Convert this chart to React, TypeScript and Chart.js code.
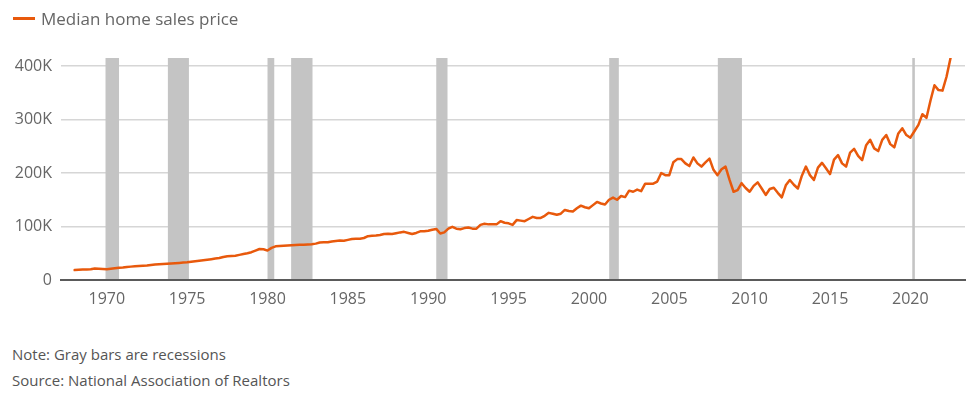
import React, { useEffect, useRef } from 'react';
import { Chart, registerables } from 'chart.js';

Chart.register(...registerables);

// Quarterly median home sales price (thousands of dollars), Jan/Apr/Jul/Oct, starting 1968
const firstYear = 1968;
const medianPriceThousands = [
  18.5, 19, 19.5, 19.5, // 1968
  20, 21.5, 21, 20.5, // 1969
  20, 21, 22, 23, // 1970
  23.5, 24.5, 25, 25.5, // 1971
  26, 26.5, 27, 28, // 1972
  29, 29.5, 30, 30.5, // 1973
  31, 31.5, 32, 32.5, // 1974
  33, 34, 35, 36, // 1975
  37, 38, 39, 40, // 1976
  41, 43, 44.5, 45, // 1977
  45.5, 47, 48.5, 50, // 1978
  52, 55, 58, 57.5, // 1979
  55, 60, 63, 63.5, // 1980
  64, 64.5, 65, 65.5, // 1981
  66, 66, 66.5, 67, // 1982
  68, 70, 70.5, 70.5, // 1983
  72, 73, 74, 73.5, // 1984
  75, 76.5, 77, 77, // 1985
  78.5, 82, 82.5, 83, // 1986
  84, 86, 86.5, 86, // 1987
  87.5, 89, 90, 88, // 1988
  86, 88, 91, 91, // 1989
  92, 94, 95.5, 87, // 1990
  89, 96, 99.5, 96, // 1991
  95, 97, 98, 96, // 1992
  96, 103, 105, 104, // 1993
  104, 104, 110, 107, // 1994
  106, 103, 112, 111, // 1995
  110, 114, 118, 116, // 1996
  116, 120, 125.5, 124, // 1997
  122, 124, 131, 129, // 1998
  128, 134, 139, 136, // 1999
  134, 140, 146, 143, // 2000
  141, 150, 154, 150, // 2001
  157, 155, 167, 165, // 2002
  169, 166, 180, 180, // 2003
  180, 184, 200, 196, // 2004
  196, 220, 226, 226, // 2005
  218, 213, 229, 218, // 2006
  212, 220, 227, 206, // 2007
  196, 207, 212, 187, // 2008
  165, 168, 181, 172, // 2009
  165, 176, 182.5, 171, // 2010
  159, 170, 172.5, 163, // 2011
  154.5, 177, 187, 178, // 2012
  171, 195, 212, 196, // 2013
  187, 210, 219, 209, // 2014
  198, 225, 233.5, 218, // 2015
  212, 238, 245, 232, // 2016
  224, 252, 262, 246, // 2017
  241, 262, 271, 254, // 2018
  248, 274, 283.5, 271, // 2019
  266, 278, 290, 310, // 2020
  303, 335, 364, 355, // 2021
  354, 380, 415, // 2022
];

// Recession periods (decimal years)
const recessionStarts = [1969.92, 1973.8, 1980.0, 1981.47, 1990.5, 2001.26, 2008.02, 2020.12];
const recessionEnds = [1970.76, 1975.11, 1980.42, 1982.8, 1991.2, 2001.86, 2009.52, 2020.28];

const xTickYears = [1970, 1975, 1980, 1985, 1990, 1995, 2000, 2005, 2010, 2015, 2020];
const yTickValues = [0, 100000, 200000, 300000, 400000];

const seriesLabel = 'Median home sales price';
const noteText = 'Note: Gray bars are recessions';
const sourceText = 'Source: National Association of Realtors';

const LINE_COLOR = '#e8590c';
const FONT = '"Open Sans", "Noto Sans", sans-serif';

const recessionPlugin = {
  id: 'recessionBars',
  beforeDatasetsDraw(chart: any) {
    const { ctx, chartArea, scales } = chart;
    const x = scales.x;
    ctx.save();
    ctx.fillStyle = '#c4c4c4';
    recessionStarts.forEach((s, i) => {
      const x0 = x.getPixelForValue(s);
      const x1 = x.getPixelForValue(recessionEnds[i]);
      ctx.fillRect(x0, chartArea.top, Math.max(x1 - x0, 2), chartArea.bottom - chartArea.top - 1);
    });
    ctx.restore();
  },
};

export default function App() {
  const canvasRef = useRef<HTMLCanvasElement | null>(null);

  useEffect(() => {
    document.body.style.margin = '0';
    const points = medianPriceThousands.map((v, i) => ({ x: firstYear + i * 0.25, y: v * 1000 }));
    const chart = new Chart(canvasRef.current as HTMLCanvasElement, {
      type: 'line',
      data: {
        datasets: [
          {
            label: seriesLabel,
            data: points,
            borderColor: LINE_COLOR,
            backgroundColor: LINE_COLOR,
            borderWidth: 2.5,
            pointRadius: 0,
            tension: 0,
            borderJoinStyle: 'round',
            borderCapStyle: 'round',
          },
        ],
      },
      options: {
        animation: false,
        responsive: false,
        maintainAspectRatio: false,
        layout: { padding: { top: 58, right: 10, left: 0, bottom: 0 } },
        plugins: {
          legend: { display: false },
          tooltip: { enabled: false },
        },
        scales: {
          x: {
            type: 'linear',
            min: 1967.15,
            max: 2023.4,
            afterBuildTicks: (scale: any) => {
              scale.ticks = xTickYears.map((v) => ({ value: v }));
            },
            afterFit: (scale: any) => {
              scale.height = 40;
            },
            grid: { display: false, drawTicks: false },
            border: { display: true, color: '#5a5a5a', width: 2 },
            ticks: {
              padding: 10,
              color: '#666',
              font: { family: FONT, size: 16 },
              maxRotation: 0,
              autoSkip: false,
              callback: (v: any) => String(v),
            },
          },
          y: {
            type: 'linear',
            min: 0,
            max: 415000,
            afterBuildTicks: (scale: any) => {
              scale.ticks = yTickValues.map((v) => ({ value: v }));
            },
            afterFit: (scale: any) => {
              scale.width = 61;
            },
            grid: { color: '#d6d6d6', lineWidth: 1.5, drawTicks: false },
            border: { display: false },
            ticks: {
              padding: 9,
              color: '#666',
              font: { family: FONT, size: 16 },
              callback: (v: any) => (v === 0 ? '0' : `${v / 1000}K`),
            },
          },
        },
      },
      plugins: [recessionPlugin],
    });
    return () => chart.destroy();
  }, []);

  return (
    <div style={{ position: 'relative', width: 975, height: 393, background: '#fff', fontFamily: FONT, overflow: 'hidden' }}>
      <canvas ref={canvasRef} width={975} height={320} style={{ position: 'absolute', left: 0, top: 0 }} />
      <div style={{ position: 'absolute', left: 13, top: 17, width: 22, height: 3, background: LINE_COLOR }} />
      <div style={{ position: 'absolute', left: 41, top: 6, fontSize: 17, lineHeight: '26px', color: '#666', whiteSpace: 'nowrap' }}>
        {seriesLabel}
      </div>
      <div style={{ position: 'absolute', left: 12, top: 343, fontSize: 15, lineHeight: '22px', color: '#555', whiteSpace: 'nowrap' }}>
        {noteText}
      </div>
      <div style={{ position: 'absolute', left: 12, top: 369, fontSize: 15, lineHeight: '22px', color: '#555', whiteSpace: 'nowrap' }}>
        {sourceText}
      </div>
    </div>
  );
}
